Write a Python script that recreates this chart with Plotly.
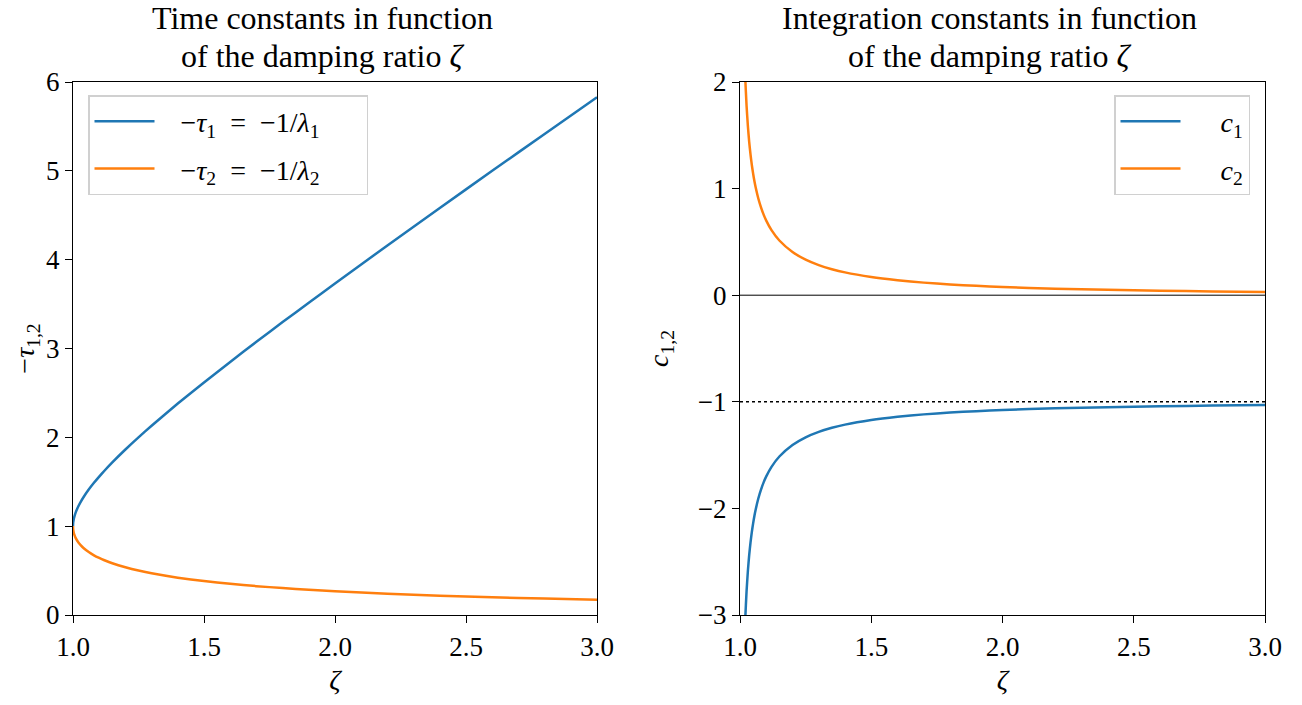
import plotly.graph_objects as go

# ---- data ----
zeta_left = [1.0, 1.0005, 1.001, 1.0025, 1.005, 1.01, 1.02, 1.03, 1.04, 1.06, 1.08, 1.1, 1.12,
             1.15, 1.2, 1.25, 1.3, 1.4, 1.5, 1.6, 1.7, 1.8, 1.9, 2.0, 2.2, 2.4, 2.6, 2.8, 3.0]
neg_tau1 = [1.0, 1.032, 1.045, 1.073, 1.105, 1.152, 1.221, 1.277, 1.326, 1.412, 1.488, 1.558, 1.624,
            1.718, 1.863, 2.000, 2.131, 2.380, 2.618, 2.849, 3.075, 3.297, 3.516, 3.732, 4.160,
            4.582, 5.000, 5.415, 5.828]
neg_tau2 = [1.0, 0.969, 0.955, 0.932, 0.905, 0.868, 0.819, 0.783, 0.754, 0.709, 0.672, 0.642, 0.616,
            0.582, 0.537, 0.500, 0.469, 0.420, 0.382, 0.351, 0.325, 0.303, 0.284, 0.268, 0.240,
            0.218, 0.200, 0.185, 0.172]

zeta_right = [1.015, 1.02, 1.025, 1.03, 1.035, 1.04, 1.045, 1.05, 1.055, 1.06, 1.07, 1.08, 1.09,
              1.1, 1.12, 1.15, 1.2, 1.25, 1.3, 1.35, 1.4, 1.5, 1.6, 1.7, 1.8, 1.9, 2.0, 2.2,
              2.4, 2.6, 2.8, 3.0]
c1 = [-3.419, -3.037, -2.778, -2.587, -2.439, -2.320, -2.222, -2.140, -2.069, -2.008, -1.905,
      -1.824, -1.756, -1.700, -1.610, -1.513, -1.405, -1.333, -1.282, -1.244, -1.214, -1.171,
      -1.141, -1.118, -1.101, -1.088, -1.077, -1.061, -1.050, -1.042, -1.035, -1.030]
c2 = [2.419, 2.037, 1.778, 1.587, 1.439, 1.320, 1.222, 1.140, 1.069, 1.008, 0.905,
      0.824, 0.756, 0.700, 0.610, 0.513, 0.405, 0.333, 0.282, 0.244, 0.214, 0.171,
      0.141, 0.118, 0.101, 0.088, 0.077, 0.061, 0.050, 0.042, 0.035, 0.030]

zero_level = 0
asymptote_level = -1

x_ticks = [1.0, 1.5, 2.0, 2.5, 3.0]
x_ticklabels = ["1.0", "1.5", "2.0", "2.5", "3.0"]
y1_ticks = [0, 1, 2, 3, 4, 5, 6]
y2_ticks = [-3, -2, -1, 0, 1, 2]
y2_ticklabels = ["\u22123", "\u22122", "\u22121", "0", "1", "2"]

title_left = ["Time constants in function", "of the damping ratio <i>\u03b6</i>"]
title_right = ["Integration constants in function", "of the damping ratio <i>\u03b6</i>"]

BLUE = "#1f77b4"
ORANGE = "#ff7f0e"
FONT = "Liberation Serif"
W, H = 1302, 705
PLOT_H = 615 - 82
NB = "\u00a0"

line_style = dict(width=2.5, shape="spline", smoothing=0.5)

fig = go.Figure()

fig.add_trace(go.Scatter(x=zeta_left, y=neg_tau1, mode="lines", line=dict(color=BLUE, **line_style),
                         name=NB * 3 + "\u2212<i>\u03c4</i><sub>1</sub>" + NB * 2 + "=" + NB * 2 +
                              "\u22121/<i>\u03bb</i><sub>1</sub>" + NB * 6,
                         xaxis="x", yaxis="y", legend="legend", legendgroup="a"))
fig.add_trace(go.Scatter(x=zeta_left, y=neg_tau2, mode="lines", line=dict(color=ORANGE, **line_style),
                         name=NB * 3 + "\u2212<i>\u03c4</i><sub>2</sub>" + NB * 2 + "=" + NB * 2 +
                              "\u22121/<i>\u03bb</i><sub>2</sub>" + NB * 6,
                         xaxis="x", yaxis="y", legend="legend", legendgroup="b"))

# reference lines on the right panel
fig.add_trace(go.Scatter(x=[1.0, 3.0], y=[zero_level, zero_level], mode="lines",
                         line=dict(color="black", width=1), showlegend=False, xaxis="x2", yaxis="y2",
                         hoverinfo="skip"))
fig.add_trace(go.Scatter(x=[1.0, 3.0], y=[asymptote_level, asymptote_level], mode="lines",
                         line=dict(color="black", width=1.5, dash="dot"), showlegend=False,
                         xaxis="x2", yaxis="y2", hoverinfo="skip"))

fig.add_trace(go.Scatter(x=zeta_right, y=c1, mode="lines", line=dict(color=BLUE, **line_style),
                         name=NB * 5 + "<i>c</i><sub>1</sub>", xaxis="x2", yaxis="y2", legend="legend2",
                         legendgroup="c"))
fig.add_trace(go.Scatter(x=zeta_right, y=c2, mode="lines", line=dict(color=ORANGE, **line_style),
                         name=NB * 5 + "<i>c</i><sub>2</sub>", xaxis="x2", yaxis="y2", legend="legend2",
                         legendgroup="d"))

axis_common = dict(showgrid=False, zeroline=False, showline=True, linecolor="black", linewidth=1.3,
                   mirror=True, ticks="outside", ticklen=7, tickwidth=1.3, tickcolor="black",
                   automargin=False,
                   tickfont=dict(family=FONT, size=27, color="black"))

title_font = dict(family=FONT, size=28, color="black")

legend_common = dict(xref="paper", yref="paper", yanchor="top",
                     bgcolor="rgba(255,255,255,0.85)", bordercolor="#d0d0d0", borderwidth=1.5,
                     font=dict(family=FONT, size=28, color="black"), tracegroupgap=8, itemwidth=60)

annotations = []
for cx, lines in ((322, title_left), (989, title_right)):
    for txt, mid_px in zip(lines, (18, 56)):
        annotations.append(dict(text=txt, x=cx / W, y=1 + (82 - mid_px) / PLOT_H, xref="paper",
                                yref="paper", xanchor="center", yanchor="middle", showarrow=False,
                                font=dict(family=FONT, size=32, color="black")))

fig.update_layout(
    width=W, height=H,
    margin=dict(l=0, r=0, t=82, b=90),
    paper_bgcolor="white", plot_bgcolor="white",
    font=dict(family=FONT, size=26, color="black"),
    xaxis=dict(domain=[73 / W, 597 / W], range=[1.0, 3.0], tickvals=x_ticks, ticktext=x_ticklabels,
               title=dict(text="<i>\u03b6</i>", font=title_font, standoff=8), anchor="y",
               **axis_common),
    yaxis=dict(domain=[0, 1], range=[0, 6], tickvals=y1_ticks,
               title=dict(text="\u2212<i>\u03c4</i><sub>1,2</sub>", font=title_font, standoff=3),
               anchor="x", **axis_common),
    xaxis2=dict(domain=[740 / W, 1265 / W], range=[1.0, 3.0], tickvals=x_ticks, ticktext=x_ticklabels,
                title=dict(text="<i>\u03b6</i>", font=title_font, standoff=8), anchor="y2",
                **axis_common),
    yaxis2=dict(domain=[0, 1], range=[-3, 2], tickvals=y2_ticks, ticktext=y2_ticklabels,
                title=dict(text="<i>c</i><sub>1,2</sub>", font=title_font, standoff=20),
                anchor="x2", **axis_common),
    legend=dict(x=88 / W, y=1 - 13 / PLOT_H, xanchor="left", **legend_common),
    legend2=dict(x=1250 / W, y=1 - 13 / PLOT_H, xanchor="right", **legend_common),
    annotations=annotations,
    showlegend=True,
)

fig.write_html("out.html")
